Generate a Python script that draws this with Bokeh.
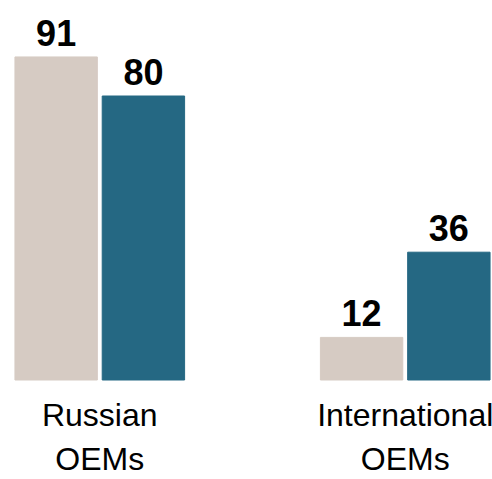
from bokeh.plotting import figure
from bokeh.models import FactorRange, Range1d, ColumnDataSource
from bokeh.core.properties import value
from bokeh.embed import file_html
from bokeh.resources import INLINE

categories = ["Russian OEMs", "International OEMs"]
series = ["Series 1", "Series 2"]
series1_values = [91, 12]
series2_values = [80, 36]
colors = ["#D6CBC3", "#256883"]

factors = []
vals = []
cols = []
for i, c in enumerate(categories):
    for j, s in enumerate(series):
        factors.append((c, s))
        vals.append([series1_values, series2_values][j][i])
        cols.append(colors[j])

src = ColumnDataSource(dict(x=factors, top=vals, color=cols,
                            label=[str(v) for v in vals]))

W, H = 492, 479
px_per_unit = 3.55
base_px = 379.5
p = figure(width=W, height=H, output_backend="svg", toolbar_location=None,
           x_range=FactorRange(*factors, factor_padding=0.0, group_padding=1.5,
                               range_padding=0.0),
           y_range=Range1d(-(H - base_px) / px_per_unit, base_px / px_per_unit),
           min_border=0, min_border_left=12, outline_line_color=None)
p.axis.visible = False
p.grid.visible = False
p.background_fill_color = "white"
p.border_fill_color = "white"

p.vbar(x="x", top="top", bottom=0, width=0.944, color="color", source=src)
p.text(x="x", y="top", text="label", source=src, text_align="center",
       text_baseline="alphabetic", y_offset=-24,
       text_font=value("Liberation Sans"), text_font_style="bold",
       text_font_size="36px", text_color="#000000")

line1 = [c.split(" ")[0] for c in categories]
line2 = [c.split(" ")[1] for c in categories]
lsrc = ColumnDataSource(dict(x=categories, l1=line1, l2=line2, y=[0, 0]))
p.text(x="x", y="y", text="l1", source=lsrc, text_align="center",
       text_baseline="alphabetic", y_offset=35,
       text_font=value("Liberation Sans"), text_font_size="32px",
       text_color="#000000")
p.text(x="x", y="y", text="l2", source=lsrc, text_align="center",
       text_baseline="alphabetic", y_offset=79,
       text_font=value("Liberation Sans"), text_font_size="32px",
       text_color="#000000")

open("out.html", "w").write(file_html(p, INLINE))
